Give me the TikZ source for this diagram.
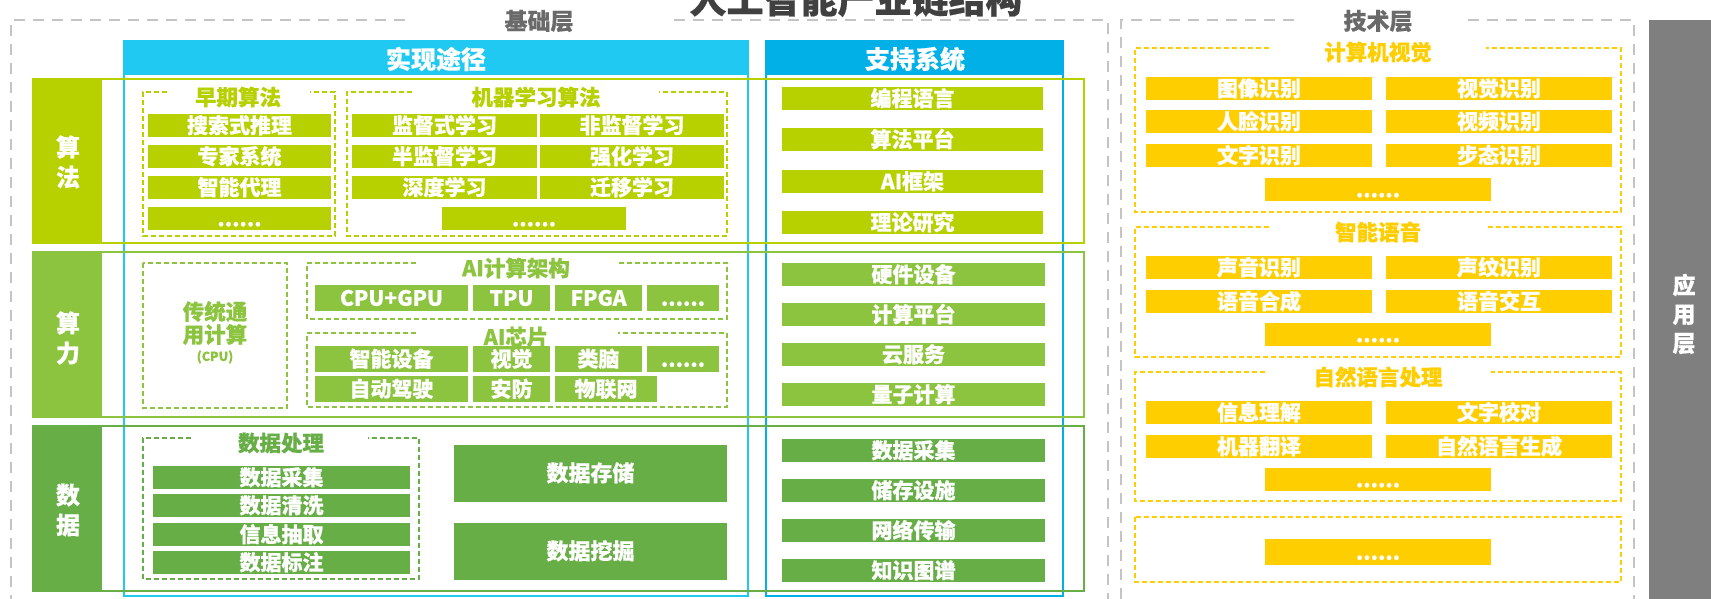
\documentclass[tikz,border=0pt]{standalone}
\usepackage{fontspec}
\setmainfont{Noto Sans CJK SC}[BoldFeatures={FakeBold=0.5}]
\definecolor{limeC}{HTML}{B7D100}
\definecolor{grnB}{HTML}{8CC43F}
\definecolor{grnC}{HTML}{67AE46}
\definecolor{cyanA}{HTML}{20C9F1}
\definecolor{cyanB}{HTML}{00B0E6}
\definecolor{yelC}{HTML}{FFCE00}
\definecolor{dashG}{HTML}{C4C4C4}
\definecolor{appG}{HTML}{7F7F7F}
\definecolor{txtG}{HTML}{6A6A6A}
\definecolor{ttlG}{HTML}{404040}
\newcommand{\mybox}[7]{\node[#2, minimum width={#5-#3}, minimum height={#6-#4}] (#1) at ({(#3+#5)/2},{(#4+#6)/2}) {#7};}
\newcommand{\gapbox}[7]{\draw[#1] (#6,#3) -- (#2,#3) -- (#2,#5) -- (#4,#5) -- (#4,#3) -- (#7,#3);}
\tikzset{
  barbase/.style={inner sep=0, outer sep=0, text=white, font=\bfseries\fontsize{21}{21}\selectfont, text height=17.5pt, text depth=2pt},
  lbar/.style={barbase, fill=limeC},
  gbar/.style={barbase, fill=grnB},
  dbar/.style={barbase, fill=grnC},
  ybar/.style={barbase, fill=yelC},
  bigbar/.style={barbase, fill=grnC, font=\bfseries\fontsize{22}{22}\selectfont},
  subt/.style={inner sep=0, font=\bfseries\fontsize{21.5}{21.5}\selectfont},
  hdr/.style={inner sep=0, text=white, font=\bfseries\fontsize{25}{25}\selectfont},
  lbl/.style={inner sep=0, text=white, align=center, font=\bfseries\fontsize{24}{30}\selectfont},
  graydash/.style={draw=dashG, line width=2.2, dash pattern=on 11 off 8},
  ldash/.style={draw=limeC, line width=1.3, dash pattern=on 5 off 3},
  gdash/.style={draw=grnB, line width=1.3, dash pattern=on 5 off 3},
  ddash/.style={draw=grnC, line width=1.3, dash pattern=on 5 off 3},
  ydash/.style={draw=yelC, line width=1.3, dash pattern=on 5 off 3},
}
\begin{document}
\begin{tikzpicture}[x=1pt,y=-1pt]
\useasboundingbox (0,0) rectangle (1711,599);
\fill[white] (0,0) rectangle (1711,599);
% title (cut at top)
\node[inner sep=0, anchor=base, text=ttlG, font=\bfseries\fontsize{37}{37}\selectfont] (title) at (856,13) {人工智能产业链结构};
% gray layer boxes
\draw[graydash] (405,20) -- (11,20) -- (11,640);
\draw[graydash] (674,20) -- (1108,20) -- (1108,640);
\node[inner sep=0, text=txtG, font=\bfseries\fontsize{23}{23}\selectfont] (jcc) at (539,21) {基础层};
\draw[graydash] (1294,20) -- (1121,20) -- (1121,640);
\draw[graydash] (1468,20) -- (1634,20) -- (1634,640);
\node[inner sep=0, text=txtG, font=\bfseries\fontsize{23}{23}\selectfont] (jsc) at (1378,21) {技术层};
% application layer
\fill[appG] (1649,20) rectangle (1711,620);
\node[lbl, font=\bfseries\fontsize{23}{29}\selectfont] (yyc) at (1684,314) {应\\用\\层};
% columns
\fill[cyanA] (124,41) rectangle (748,75);
\draw[cyanA, line width=2] (124,41) rectangle (748,596);
\node[hdr] (sxtj) at (436,59) {实现途径};
\fill[cyanB] (766,41) rectangle (1063,75);
\draw[cyanB, line width=2] (766,41) rectangle (1063,596);
\node[hdr] (zcxt) at (915,59) {支持系统};
% bands
\draw[limeC, line width=2.5] (33,79) rectangle (1084,243);
\fill[limeC] (32,78) rectangle (102,244);
\node[lbl] (sf) at (68,162) {算\\法};
\draw[grnB, line width=2.5] (33,252) rectangle (1084,417);
\fill[grnB] (32,251) rectangle (102,418);
\node[lbl] (sl) at (68,338) {算\\力};
\draw[grnC, line width=2.5] (33,426) rectangle (1084,591);
\fill[grnC] (32,425) rectangle (102,592);
\node[lbl] (sj) at (68,510) {数\\据};
% ---- algorithms
\gapbox{ldash}{143}{92}{335}{236}{167}{310}
\node[subt, text=limeC] (zqsf) at (238,97) {早期算法};
\mybox{a1}{lbar}{148}{114}{331}{137}{搜索式推理}
\mybox{a2}{lbar}{148}{145}{331}{168}{专家系统}
\mybox{a3}{lbar}{148}{176}{331}{199}{智能代理}
\mybox{a4}{lbar}{148}{207}{331}{230}{......}
\gapbox{ldash}{347}{92}{727}{236}{412}{659}
\node[subt, text=limeC] (jqxx) at (536,97) {机器学习算法};
\mybox{m1}{lbar}{352}{114}{537}{137}{监督式学习}
\mybox{m2}{lbar}{540}{114}{724}{137}{非监督学习}
\mybox{m3}{lbar}{352}{145}{537}{168}{半监督学习}
\mybox{m4}{lbar}{540}{145}{724}{168}{强化学习}
\mybox{m5}{lbar}{352}{176}{537}{199}{深度学习}
\mybox{m6}{lbar}{540}{176}{724}{199}{迁移学习}
\mybox{m7}{lbar}{442}{207}{626}{230}{......}
\mybox{s1}{lbar}{782}{87}{1043}{110}{编程语言}
\mybox{s2}{lbar}{782}{128}{1043}{151}{算法平台}
\mybox{s3}{lbar}{782}{170}{1043}{193}{AI框架}
\mybox{s4}{lbar}{782}{211}{1043}{234}{理论研究}
% ---- computing
\draw[gdash] (143,263) rectangle (287,408);
\node[subt, text=grnB, align=center, font=\bfseries\fontsize{21.5}{23}\selectfont] (ctjs) at (215,323) {传统通\\用计算};
\node[inner sep=0, text=grnB, font=\bfseries\fontsize{12.5}{12.5}\selectfont] (cpu) at (215,357) {(CPU)};
\gapbox{gdash}{307}{263}{727}{319}{416}{618}
\node[subt, text=grnB] (aijg) at (516,268) {AI计算架构};
\mybox{c1}{gbar}{315}{285}{468}{311}{CPU+GPU}
\mybox{c2}{gbar}{473}{285}{550}{311}{TPU}
\mybox{c3}{gbar}{555}{285}{642}{311}{FPGA}
\mybox{c4}{gbar}{647}{285}{719}{311}{......}
\gapbox{gdash}{307}{333}{727}{407}{416}{618}
\node[subt, text=grnB] (aixp) at (516,337) {AI芯片};
\mybox{p1}{gbar}{315}{346}{468}{372}{智能设备}
\mybox{p2}{gbar}{473}{346}{550}{372}{视觉}
\mybox{p3}{gbar}{555}{346}{642}{372}{类脑}
\mybox{p4}{gbar}{647}{346}{719}{372}{......}
\mybox{p5}{gbar}{315}{376}{468}{402}{自动驾驶}
\mybox{p6}{gbar}{473}{376}{550}{402}{安防}
\mybox{p7}{gbar}{555}{376}{657}{402}{物联网}
\mybox{t1}{gbar}{782}{263}{1045}{286}{硬件设备}
\mybox{t2}{gbar}{782}{303}{1045}{326}{计算平台}
\mybox{t3}{gbar}{782}{343}{1045}{366}{云服务}
\mybox{t4}{gbar}{782}{383}{1045}{406}{量子计算}
% ---- data
\gapbox{ddash}{143}{438}{419}{579}{191}{368}
\node[subt, text=grnC] (sjcl) at (281,443) {数据处理};
\mybox{d1}{dbar}{153}{466}{410}{489}{数据采集}
\mybox{d2}{dbar}{153}{494}{410}{517}{数据清洗}
\mybox{d3}{dbar}{153}{523}{410}{546}{信息抽取}
\mybox{d4}{dbar}{153}{551}{410}{574}{数据标注}
\mybox{d5}{bigbar}{454}{445}{727}{502}{数据存储}
\mybox{d6}{bigbar}{454}{523}{727}{580}{数据挖掘}
\mybox{u1}{dbar}{782}{439}{1045}{462}{数据采集}
\mybox{u2}{dbar}{782}{479}{1045}{502}{储存设施}
\mybox{u3}{dbar}{782}{519}{1045}{542}{网络传输}
\mybox{u4}{dbar}{782}{559}{1045}{582}{知识图谱}
% ---- technology layer
\gapbox{ydash}{1135}{48}{1621}{212}{1269}{1486}
\node[subt, text=yelC] (jsjsj) at (1378,52) {计算机视觉};
\mybox{v1}{ybar}{1146}{77}{1372}{100}{图像识别}
\mybox{v2}{ybar}{1386}{77}{1612}{100}{视觉识别}
\mybox{v3}{ybar}{1146}{110}{1372}{133}{人脸识别}
\mybox{v4}{ybar}{1386}{110}{1612}{133}{视频识别}
\mybox{v5}{ybar}{1146}{144}{1372}{167}{文字识别}
\mybox{v6}{ybar}{1386}{144}{1612}{167}{步态识别}
\mybox{v7}{ybar}{1265}{178}{1491}{201}{......}
\gapbox{ydash}{1135}{227}{1621}{357}{1269}{1486}
\node[subt, text=yelC] (znyy) at (1378,232) {智能语音};
\mybox{w1}{ybar}{1146}{256}{1372}{279}{声音识别}
\mybox{w2}{ybar}{1386}{256}{1612}{279}{声纹识别}
\mybox{w3}{ybar}{1146}{290}{1372}{313}{语音合成}
\mybox{w4}{ybar}{1386}{290}{1612}{313}{语音交互}
\mybox{w5}{ybar}{1265}{323}{1491}{346}{......}
\gapbox{ydash}{1135}{372}{1621}{501}{1265}{1491}
\node[subt, text=yelC] (zryy) at (1378,377) {自然语言处理};
\mybox{n1}{ybar}{1146}{401}{1372}{424}{信息理解}
\mybox{n2}{ybar}{1386}{401}{1612}{424}{文字校对}
\mybox{n3}{ybar}{1146}{435}{1372}{458}{机器翻译}
\mybox{n4}{ybar}{1386}{435}{1612}{458}{自然语言生成}
\mybox{n5}{ybar}{1265}{468}{1491}{491}{......}
\draw[ydash] (1135,517) rectangle (1621,582);
\mybox{o1}{ybar}{1265}{539}{1491}{565}{......}
\end{tikzpicture}
\end{document}
